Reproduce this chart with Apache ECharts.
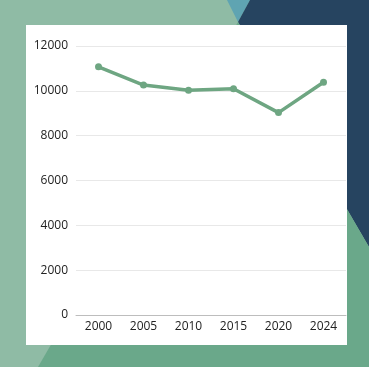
<!DOCTYPE html>
<html>
<head>
<meta charset="utf-8">
<script src="https://cdn.jsdelivr.net/npm/echarts@6/dist/echarts.min.js"></script>
<style>
html,body{margin:0;padding:0;background:#8fbba5;}
#c{width:369px;height:367px;}
</style>
</head>
<body>
<div id="c"></div>
<script>
const categories = ['2000', '2005', '2010', '2015', '2020', '2024'];
const values = [11070, 10260, 10030, 10090, 9030, 10380];
const yTicks = [0, 2000, 4000, 6000, 8000, 10000, 12000];

const chart = echarts.init(document.getElementById('c'), null, {renderer: 'canvas'});
chart.setOption({
  animation: false,
  backgroundColor: '#8fbba5',
  graphic: [
    {type: 'polygon', z: -20, shape: {points: [[227,0],[250,0],[238,22]]}, style: {fill: '#5fa4b2'}},
    {type: 'polygon', z: -20, shape: {points: [[250,0],[369,0],[369,247],[238,22]]}, style: {fill: '#264460'}},
    {type: 'polygon', z: -20, shape: {points: [[238,22],[369,247],[369,367],[38,367]]}, style: {fill: '#6aa88a'}},
    {type: 'rect', z: -10, shape: {x: 26, y: 25, width: 321, height: 320}, style: {fill: '#ffffff'}}
  ],
  grid: {left: 76, right: 23, top: 46, bottom: 52, containLabel: false},
  xAxis: {
    type: 'category',
    data: categories,
    boundaryGap: true,
    axisLine: {show: true, lineStyle: {color: '#bdbdbd', width: 1}},
    axisTick: {show: false},
    axisLabel: {color: '#222', fontSize: 12, fontFamily: 'Open Sans', margin: 6}
  },
  yAxis: {
    type: 'value',
    min: 0, max: 12000, interval: 2000,
    axisLine: {show: false},
    axisTick: {show: false},
    splitLine: {lineStyle: {color: '#e8e8e8', width: 1}},
    axisLabel: {color: '#222', fontSize: 12, fontFamily: 'Open Sans', margin: 8,
      formatter: v => yTicks.includes(v) ? String(v) : ''}
  },
  series: [{
    type: 'line',
    data: values,
    symbol: 'circle',
    symbolSize: 7,
    lineStyle: {color: '#6ea682', width: 3.5},
    itemStyle: {color: '#6ea682'}
  }]
});
</script>
</body>
</html>
